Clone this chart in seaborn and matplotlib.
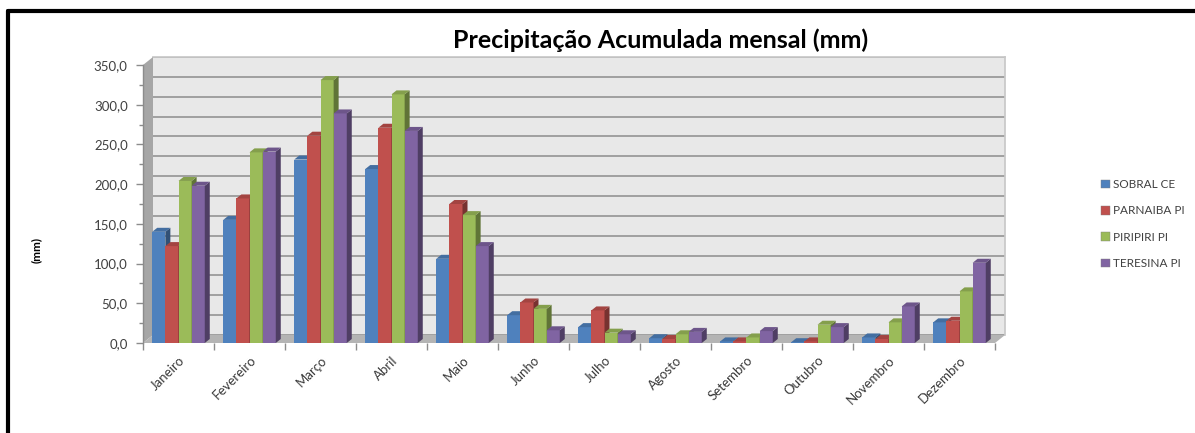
import numpy as np
import pandas as pd
import matplotlib
matplotlib.use("Agg")
import matplotlib.pyplot as plt
import seaborn as sns
from matplotlib.patches import Polygon, Patch
from matplotlib.ticker import MultipleLocator, FuncFormatter

meses = ["Janeiro", "Fevereiro", "Março", "Abril", "Maio", "Junho", "Julho",
         "Agosto", "Setembro", "Outubro", "Novembro", "Dezembro"]
sobral = [140, 155, 231, 219, 106, 35, 20, 6, 2, 1, 7, 26]
parnaiba = [122, 182, 261, 271, 175, 51, 41, 5, 2, 2, 5, 28]
piripiri = [204, 240, 331, 313, 161, 43, 13, 11, 7, 23, 26, 65]
teresina = [198, 241, 289, 267, 122, 16, 11, 14, 15, 20, 46, 101]
estacoes = ["SOBRAL CE", "PARNAIBA PI", "PIRIPIRI PI", "TERESINA PI"]
cores = ["#4F81BD", "#C0504D", "#9BBB59", "#8064A2"]
titulo = "Precipitação Acumulada mensal (mm)"
ylabel = "(mm)"

df = pd.DataFrame({
    "mes": meses * 4,
    "estacao": sum([[e] * 12 for e in estacoes], []),
    "valor": sobral + parnaiba + piripiri + teresina,
})

sns.set_theme(style="white")
plt.rcParams["font.family"] = ["Lato", "DejaVu Sans"]

W, H = 1195, 433
fig = plt.figure(figsize=(W / 100, H / 100), dpi=100)

def fx(px):
    return px / W

def fy(py):
    return 1 - py / H

# main (front) axes
L, R, T, B = 143, 995, 65, 343
DX, DY = 10, 8
ax = fig.add_axes([fx(L), fy(B), fx(R - L), (B - T) / H], zorder=1)
# back wall axes
wall = fig.add_axes([fx(L + DX), fy(B - DY), fx(R - L), (B - T) / H], zorder=-1)
wall.set_facecolor("#e8e8e8")
wall.set_ylim(0, 350)
wall.set_xlim(0, 1)
wall.yaxis.set_major_locator(MultipleLocator(25))
wall.grid(axis="y", color="#9a9a9a", lw=1.3)
wall.set_xticks([])
wall.set_yticklabels([])
wall.tick_params(left=False)
for s in wall.spines.values():
    s.set_visible(False)
wall.spines["top"].set_visible(True)
wall.spines["top"].set_color("#c8c8c8")
wall.spines["right"].set_visible(True)
wall.spines["right"].set_color("#c8c8c8")

# side wall and floor (behind the bars)
fig.patches.append(Polygon([(fx(L), fy(T)), (fx(L + DX), fy(T - DY)), (fx(L + DX), fy(B - DY)), (fx(L), fy(B))],
                           closed=True, transform=fig.transFigure, facecolor="#a6a6a6", edgecolor="none", zorder=-0.5))
fig.patches.append(Polygon([(fx(L), fy(B)), (fx(L + DX), fy(B - DY)), (fx(R + DX), fy(B - DY)), (fx(R), fy(B))],
                           closed=True, transform=fig.transFigure, facecolor="#b4b4b4", edgecolor="none", zorder=-0.5))

ax.patch.set_alpha(0)
sns.barplot(data=df, x="mes", y="valor", hue="estacao", order=meses, hue_order=estacoes,
            palette=cores, width=0.74, gap=0, ax=ax, legend=False, saturation=1,
            edgecolor="none", linewidth=0, errorbar=None)
ax.set_ylim(0, 350)
ax.set_xlim(-0.5, 11.5)
ax.set_xlabel("")
ax.set_ylabel("")

# 3D depth on bars
fig.canvas.draw()
bx, by = 5, 4
inv = ax.transData.inverted()
n = len(meses)
for i, p in enumerate(ax.patches):
    h = p.get_height()
    k = i // n
    col = np.array(matplotlib.colors.to_rgb(cores[k]))
    x0 = p.get_x(); x1 = x0 + p.get_width()
    d = ax.transData.transform
    a = d((x0, h)); b = d((x1, h)); c = d((x1, 0))
    top = [a, b, b + [bx, by], a + [bx, by]]
    side = [c, b, b + [bx, by], c + [bx, by]]
    p.set_zorder(3 + k)
    ax.add_patch(Polygon(inv.transform(np.array(side)), closed=True, facecolor=col * 0.62,
                         edgecolor="none", zorder=3 + k))
    ax.add_patch(Polygon(inv.transform(np.array(top)), closed=True, facecolor=col * 0.85,
                         edgecolor="none", zorder=3 + k))
    p.set_facecolor(col)

# axes styling
for s in ["top", "right", "bottom"]:
    ax.spines[s].set_visible(False)
ax.spines["left"].set_color("#8c8c8c")
ax.spines["left"].set_linewidth(1.0)
ax.yaxis.set_major_locator(MultipleLocator(50))
ax.yaxis.set_minor_locator(MultipleLocator(25))
ax.yaxis.set_major_formatter(FuncFormatter(lambda v, _: f"{v:.1f}".replace(".", ",")))
ax.tick_params(axis="y", which="both", left=True, length=5, width=1, color="#8c8c8c",
               labelsize=9.5, labelcolor="#404040", pad=6)
ax.tick_params(axis="y", which="minor", length=3)
ax.set_xticks(range(n))
ax.set_xticklabels(meses, rotation=45, ha="right", rotation_mode="anchor",
                   fontsize=9.5, color="#3a3a3a")
ax.tick_params(axis="x", which="major", bottom=False, length=0, pad=8)
ax.set_xticks(np.arange(-0.5, n, 1.0), minor=True)
ax.tick_params(axis="x", which="minor", bottom=True, length=5, color="#8c8c8c", width=1)
ax.grid(False)

fig.text(fx(661), fy(40), titulo, ha="center", va="center", fontsize=18,
         fontweight="bold", color="black")
fig.text(fx(36), fy(250), ylabel, ha="center", va="center", rotation=90,
         fontsize=8.5, fontweight="bold", color="black")

handles = [Patch(facecolor=c, edgecolor="#7f7f7f", linewidth=0.3) for c in cores]
fig.legend(handles, estacoes, loc="center left", bbox_to_anchor=(fx(1096), fy(224)),
           frameon=False, fontsize=8.5, labelspacing=1.3, handlelength=0.75, handleheight=0.75,
           handletextpad=0.3, labelcolor="#404040", borderaxespad=0)

# chart-area border (left and top)
fig.lines.append(matplotlib.lines.Line2D([fx(8), fx(8)], [fy(433), fy(11)], transform=fig.transFigure,
                                         color="black", lw=3))
fig.lines.append(matplotlib.lines.Line2D([fx(8), 1.0], [fy(11), fy(11)], transform=fig.transFigure,
                                         color="black", lw=3))

fig.savefig("out.png", dpi=100)
